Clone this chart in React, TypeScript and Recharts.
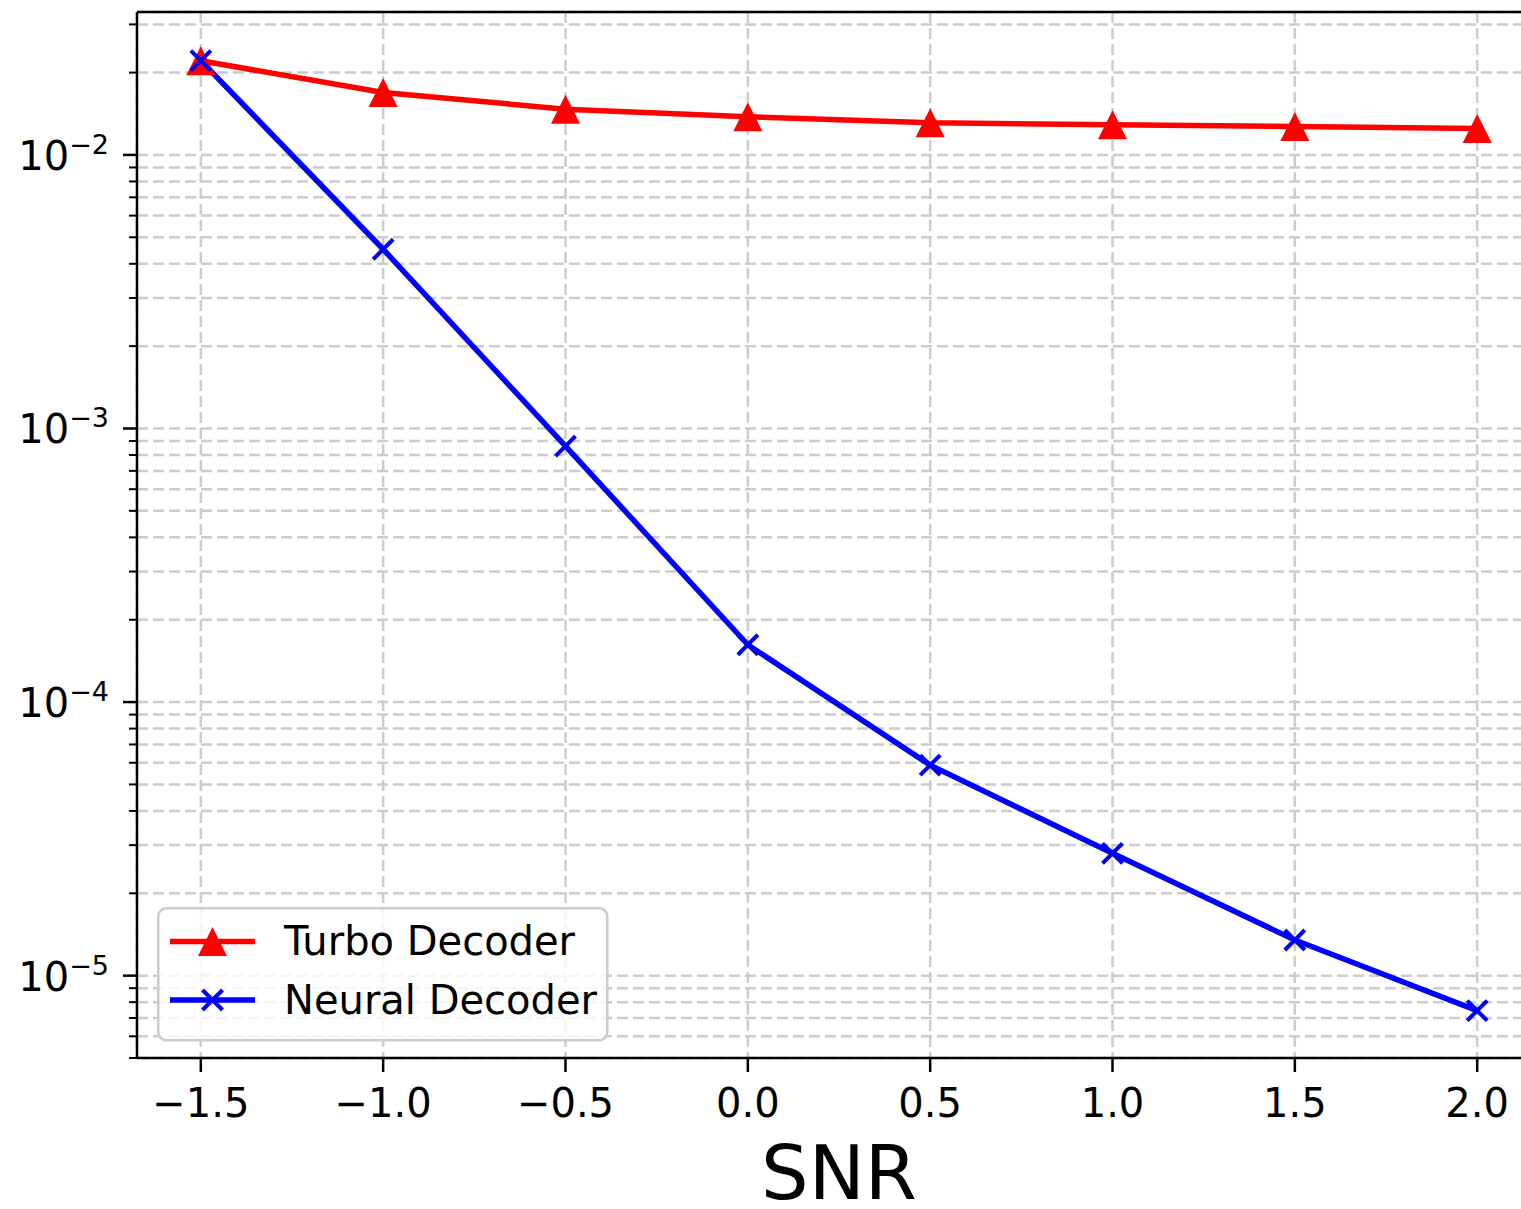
import React from "react";
import { LineChart, Line, XAxis, YAxis, CartesianGrid, Legend, Label, ReferenceLine } from "recharts";

// SNR sweep and bit error rates
const snr = [-1.5, -1.0, -0.5, 0.0, 0.5, 1.0, 1.5, 2.0];
const turboBer = [0.0221, 0.0169, 0.0147, 0.0138, 0.0131, 0.0129, 0.0127, 0.0125];
const neuralBer = [0.0221, 0.00452, 0.000862, 0.000162, 0.0000588, 0.000028, 0.0000135, 0.00000745];

const seriesOrder = ["turbo", "neural"];

const xTicks = [-1.5, -1.0, -0.5, 0.0, 0.5, 1.0, 1.5, 2.0];
const yDecades = [1e-6, 1e-5, 1e-4, 1e-3, 1e-2];
const yMantissas = [1, 2, 3, 4, 5, 6, 7, 8, 9];

const xDomain = [-1.675, 2.175];
const yDomain = [5.0e-6, 0.0333];

const yTicks = yDecades
  .flatMap(d => yMantissas.map(m => m * d))
  .filter(v => v >= yDomain[0] * 0.999 && v <= yDomain[1]);

const data = snr.map((s, i) => ({ snr: s, turbo: turboBer[i], neural: neuralBer[i] }));

const FONT = "DejaVu Sans";
const RED = "#ff0000";
const BLUE = "#0000ff";

const isMajor = (v: number) => Math.abs(Math.log10(v) - Math.round(Math.log10(v))) < 1e-6;
const fmtX = (v: number) => v.toFixed(1).replace("-", "\u2212");

const XTick = (props: any) => {
  const { x, y, payload } = props;
  return (
    <g>
      <line x1={x} x2={x} y1={y} y2={y + 14} stroke="#000" strokeWidth={2.5} />
      <text x={x} y={y + 59} textAnchor="middle" fontSize={40} fontFamily={FONT} fill="#000">
        {fmtX(payload.value)}
      </text>
    </g>
  );
};

const YTick = (props: any) => {
  const { x, y, payload } = props;
  const major = isMajor(payload.value);
  const exp = Math.round(Math.log10(payload.value));
  return (
    <g>
      <line x1={x - (major ? 14 : 8)} x2={x} y1={y} y2={y} stroke="#000" strokeWidth={major ? 2.5 : 2} />
      {major && (
        <text x={x - 28} y={y + 15} textAnchor="end" fontSize={40} fontFamily={FONT} fill="#000">
          10
          <tspan dy={-16} fontSize={27}>{"\u2212" + Math.abs(exp)}</tspan>
        </text>
      )}
    </g>
  );
};

const TriangleDot = (props: any) => {
  const { cx, cy } = props;
  if (cx == null || cy == null) return null;
  const h = 14.5;
  return <path d={`M${cx},${cy - h} L${cx + h},${cy + h} L${cx - h},${cy + h} Z`} fill={RED} />;
};

const CrossDot = (props: any) => {
  const { cx, cy } = props;
  if (cx == null || cy == null) return null;
  const h = 10;
  return (
    <g stroke={BLUE} strokeWidth={4}>
      <line x1={cx - h} y1={cy - h} x2={cx + h} y2={cy + h} />
      <line x1={cx - h} y1={cy + h} x2={cx + h} y2={cy - h} />
    </g>
  );
};

const LegendBox = (props: any) => {
  const items = [...(props.payload || [])].sort(
    (a: any, b: any) => seriesOrder.indexOf(a.dataKey) - seriesOrder.indexOf(b.dataKey)
  );
  return (
    <svg width={452} height={135}>
      <rect x={1.25} y={1.25} width={449} height={132} rx={8} fill="#ffffff" fillOpacity={0.8} stroke="#cccccc" strokeWidth={2.5} />
      {items.map((it: any, i: number) => {
        const cy = 34.5 + i * 58.5;
        return (
          <g key={it.value}>
            <line x1={13} x2={98} y1={cy} y2={cy} stroke={it.color} strokeWidth={5.5} />
            {it.dataKey === "turbo"
              ? <TriangleDot cx={55.5} cy={cy} />
              : <CrossDot cx={55.5} cy={cy} />}
            <text x={127} y={cy + 13.5} fontSize={40} fontFamily={FONT} fill="#000">{it.value}</text>
          </g>
        );
      })}
    </svg>
  );
};

const SnrLabel = (props: any) => {
  const { x, y, width } = props.viewBox;
  return (
    <text x={x + width / 2} y={y + 141} textAnchor="middle" fontSize={75} fontFamily={FONT} fill="#000">
      SNR
    </text>
  );
};

export default function App() {
  return (
    <div style={{ position: "absolute", left: 0, top: 0, width: 1521, height: 1209, overflow: "hidden", background: "#fff" }}>
      <LineChart width={1541} height={1209} data={data} margin={{ top: 12, right: 0, bottom: 0, left: 0 }}>
        <CartesianGrid stroke="#cccccc" strokeDasharray="11 5" strokeWidth={2.5} />
        <XAxis
          dataKey="snr"
          type="number"
          domain={xDomain}
          ticks={xTicks}
          interval={0}
          allowDataOverflow
          height={151}
          tickSize={0}
          tickMargin={0}
          tickLine={false}
          axisLine={{ stroke: "#000", strokeWidth: 2.5 }}
          tick={<XTick />}
        >
          <Label content={<SnrLabel />} />
        </XAxis>
        <YAxis
          type="number"
          scale="log"
          domain={yDomain}
          ticks={yTicks}
          interval={0}
          allowDataOverflow
          width={137}
          tickSize={0}
          tickMargin={0}
          tickLine={false}
          axisLine={{ stroke: "#000", strokeWidth: 2.5 }}
          tick={<YTick />}
        />
        <ReferenceLine y={yDomain[1]} stroke="#000" strokeWidth={2.5} ifOverflow="visible" />
        <Legend
          content={<LegendBox />}
          layout="vertical"
          align="center"
          verticalAlign="middle"
          wrapperStyle={{ position: "absolute", left: 157, top: 907, width: 452, height: 135, lineHeight: 0 }}
        />
        <Line
          dataKey="turbo"
          name="Turbo Decoder"
          stroke={RED}
          strokeWidth={5.5}
          dot={<TriangleDot />}
          activeDot={false}
          isAnimationActive={false}
        />
        <Line
          dataKey="neural"
          name="Neural Decoder"
          stroke={BLUE}
          strokeWidth={5.5}
          dot={<CrossDot />}
          activeDot={false}
          isAnimationActive={false}
        />
      </LineChart>
    </div>
  );
}
